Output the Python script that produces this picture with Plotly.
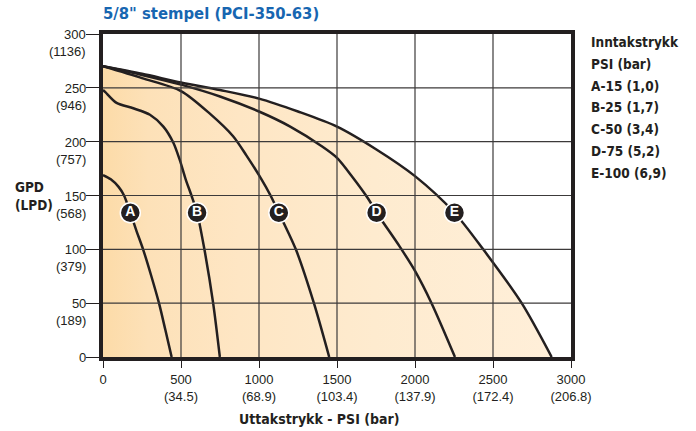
import plotly.graph_objects as go

# ---------------- data ----------------
A_x = [0, 50, 100, 135, 175, 215, 257, 310, 359, 400, 440]
A_y = [169, 165, 158, 150, 134, 117, 100, 75, 50, 25, 0]

B_x = [0, 15, 87, 194, 301, 387, 451, 492, 530, 567, 603, 650, 706, 749]
B_y = [248, 246, 236, 231, 225, 214, 199, 183, 165, 150, 134, 100, 50, 0]

C_x = [0, 250, 500, 685, 834, 920, 1016, 1074, 1127, 1236, 1352, 1450]
C_y = [270, 259, 247, 226, 205, 187, 165, 150, 134, 100, 50, 0]

D_x = [0, 250, 500, 750, 1000, 1200, 1400, 1500, 1600, 1700, 1754, 1900, 2000, 2106, 2256]
D_y = [270, 262, 253, 242, 228, 214, 196, 185, 167, 147, 134, 103, 80, 50, 0]

E_x = [0, 250, 500, 750, 1000, 1250, 1500, 1750, 2000, 2253, 2437, 2684, 2876]
E_y = [270, 263, 255, 248, 240, 228, 214, 193, 168, 134, 100, 50, 0]

curve_names = ["A", "B", "C", "D", "E"]
label_x = [175, 603, 1127, 1754, 2253]
label_y = [134, 134, 134, 134, 134]

x_ticks = [0, 500, 1000, 1500, 2000, 2500, 3000]
x_bar = ["", "34.5", "68.9", "103.4", "137.9", "172.4", "206.8"]
y_ticks = [0, 50, 100, 150, 200, 250, 300]
y_lpd = ["", "189", "379", "568", "757", "946", "1136"]

title_text = '5/8" stempel (PCI-350-63)'
legend_lines = ["Inntakstrykk", "PSI (bar)", "A-15 (1,0)", "B-25 (1,7)",
                "C-50 (3,4)", "D-75 (5,2)", "E-100 (6,9)"]
x_title = "Uttakstrykk - PSI (bar)"
y_title = "GPD<br>(LPD)"

# ---------------- style ----------------
INK = "#231f20"
COND = "DejaVu Sans Condensed, Liberation Sans Narrow, Arial Narrow, sans-serif"
REG = "Liberation Sans, Arial, Helvetica, sans-serif"

W, H = 696, 431
ML, MR, MT, MB = 103, 125, 34, 74
PW, PH = W - ML - MR, H - MT - MB

def px_x(px):
    return (px - ML) / PW

def px_y(py):
    return (H - MB - py) / PH

fig = go.Figure()

# gradient-filled area under the outermost curve
fig.add_trace(go.Scatter(
    x=E_x, y=E_y, mode="lines", line=dict(color=INK, width=2.5, shape="spline", smoothing=0.8),
    fill="tozeroy",
    fillgradient=dict(type="horizontal", start=0, stop=2900,
                      colorscale=[[0, "#FCDBA8"], [0.1, "#FDE1B8"], [0.3, "#FEE6C4"],
                                  [0.6, "#FEEBCF"], [1, "#FFEFD9"]]),
    hoverinfo="skip", showlegend=False))

for xs, ys in [(A_x, A_y), (B_x, B_y), (C_x, C_y), (D_x, D_y)]:
    fig.add_trace(go.Scatter(
        x=xs, y=ys, mode="lines",
        line=dict(color=INK, width=2.5, shape="spline", smoothing=0.8),
        hoverinfo="skip", showlegend=False))

# curve labels
fig.add_trace(go.Scatter(
    x=label_x, y=label_y, mode="markers+text", text=curve_names,
    textposition="middle center",
    textfont=dict(family="Liberation Sans, Arial, sans-serif", size=14, color="white", weight="bold"),
    marker=dict(size=20, color=INK, line=dict(color="white", width=1.5)),
    hoverinfo="skip", showlegend=False))

# grid lines drawn above the fills
shapes = []
for xv in x_ticks[1:-1]:
    shapes.append(dict(type="line", xref="x", yref="y", x0=xv, x1=xv,
                       y0=y_ticks[0], y1=y_ticks[-1], layer="above",
                       line=dict(color="#3c3a3a", width=1.2)))
for yv in y_ticks[1:-1]:
    shapes.append(dict(type="line", xref="x", yref="y", y0=yv, y1=yv,
                       x0=x_ticks[0], x1=x_ticks[-1], layer="above",
                       line=dict(color="#3c3a3a", width=1.2)))

annotations = []
# y tick labels (value on first line, litres below)
for yv, lp in zip(y_ticks, y_lpd):
    txt = str(yv) if lp == "" else f"{yv}<br>({lp})"
    annotations.append(dict(x=0, y=yv, xref="paper", yref="y", text=txt,
                            xanchor="right", yanchor="top", align="right",
                            xshift=-15, yshift=9, showarrow=False,
                            font=dict(family=REG, size=13, color=INK)))
# title
annotations.append(dict(x=px_x(101), y=px_y(14), xref="paper", yref="paper",
                        text=title_text, xanchor="left", yanchor="middle",
                        showarrow=False,
                        font=dict(family=COND, size=16.5, color="#1766b1", weight="bold")))
# legend block
for i, line in enumerate(legend_lines):
    annotations.append(dict(x=px_x(589), y=px_y(42 + i * 21.8), xref="paper", yref="paper",
                            text=line, xanchor="left", yanchor="middle", showarrow=False,
                            font=dict(family=COND, size=13.5, color=INK, weight="bold")))
# axis titles
annotations.append(dict(x=px_x(319), y=px_y(419), xref="paper", yref="paper",
                        text=x_title, xanchor="center", yanchor="middle", showarrow=False,
                        font=dict(family=COND, size=14, color=INK, weight="bold")))
annotations.append(dict(x=px_x(13), y=px_y(196), xref="paper", yref="paper",
                        text=y_title, xanchor="left", yanchor="middle", align="left",
                        showarrow=False,
                        font=dict(family=COND, size=13.5, color=INK, weight="bold")))

x_text = [str(v) if b == "" else f"{v}<br>({b})" for v, b in zip(x_ticks, x_bar)]

fig.update_layout(
    width=W, height=H, margin=dict(l=ML, r=MR, t=MT, b=MB),
    paper_bgcolor="white", plot_bgcolor="white",
    shapes=shapes, annotations=annotations,
    xaxis=dict(range=[x_ticks[0], x_ticks[-1]], tickvals=x_ticks, ticktext=x_text,
               showgrid=False, zeroline=False, showline=True, linewidth=4,
               linecolor=INK, mirror=True, ticks="outside", ticklen=7, tickwidth=1.2,
               tickcolor=INK, tickfont=dict(family=REG, size=13, color=INK),
               fixedrange=True),
    yaxis=dict(range=[y_ticks[0], y_ticks[-1]], tickvals=y_ticks, showticklabels=False,
               showgrid=False, zeroline=False, showline=True, linewidth=4,
               linecolor=INK, mirror=True, ticks="outside", ticklen=13, tickwidth=1.2,
               tickcolor=INK, fixedrange=True),
)

fig.write_html("out.html", config={"displayModeBar": False},
               post_script="document.body.style.margin='0';document.body.style.padding='0';")
